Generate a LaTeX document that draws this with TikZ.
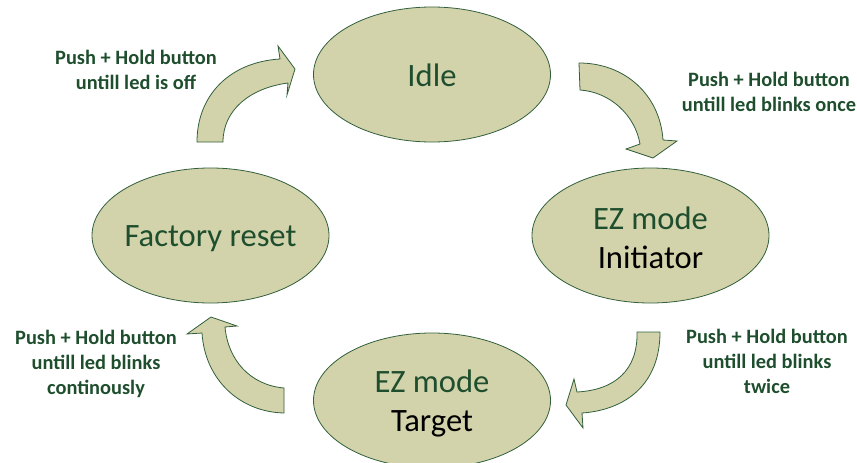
\documentclass[tikz,border=0pt]{standalone}
\usepackage{fontspec}
\setmainfont{Carlito}
\usetikzlibrary{shapes.geometric}
\definecolor{olivefill}{RGB}{211,211,171}
\definecolor{olivedraw}{RGB}{50,95,60}
\definecolor{darkgreen}{RGB}{30,78,45}
\tikzset{
  state/.style={ellipse, draw=olivedraw, line width=0.8pt, fill=olivefill,
    minimum width=237pt, minimum height=135pt, inner sep=0pt},
  statetext/.style={align=center, inner sep=0pt,
    font=\fontsize{32.6}{39}\selectfont, text=darkgreen},
  blockarrow/.style={draw=olivedraw, line width=0.8pt, fill=olivefill, line join=miter},
  note/.style={align=center, font=\fontsize{20.4}{25}\selectfont\bfseries, text=darkgreen, inner sep=0pt}
}
\begin{document}
\begin{tikzpicture}[x=1pt,y=-1pt]
\useasboundingbox (0,0) rectangle (857,463);
\clip (0,0) rectangle (857,463);
\node[state, label={[statetext, yshift=-1pt]center:Idle}] (idle) at (432,74.5) {};
\node[state, label={[statetext, yshift=-2pt]center:EZ mode\\\textcolor{black}{Initiator}}] (init) at (650.5,235.5) {};
\node[state, label={[statetext, yshift=-3pt]center:Factory reset}] (reset) at (210.5,235.5) {};
\node[state, label={[statetext, yshift=-2.5pt]center:EZ mode\\\textcolor{black}{Target}}] (target) at (432,400.5) {};
% arrow reset -> idle
\draw[blockarrow] (197,142) .. controls (197,95) and (230,62) .. (280,59)
  -- (278,46) -- (295,69) -- (287,95) -- (288,83)
  .. controls (250,88) and (223,110) .. (223,142) -- cycle;
% arrow idle -> init
\draw[blockarrow] (579,63) .. controls (625,63) and (660,95) .. (663,140)
  -- (677,141) -- (653,158) -- (626,149) -- (640,144)
  .. controls (635,115) and (610,92) .. (580,90) -- cycle;
% arrow init -> target
\draw[blockarrow] (660,332) .. controls (660,385) and (625,410) .. (582,413)
  -- (583,428) -- (566,405) -- (574,379) -- (577,392)
  .. controls (615,390) and (638,370) .. (637,332) -- cycle;
% arrow target -> reset
\draw[blockarrow] (284,413) .. controls (240,412) and (205,380) .. (202,333)
  -- (187,334) -- (211,317) -- (237,326) -- (225,327)
  .. controls (228,360) and (250,385) .. (284,388) -- cycle;
\node[note] (n1) at (136,70) {Push + Hold button\\untill led is off};
\node[note] (n2) at (769,92) {Push + Hold button\\untill led blinks once};
\node[note] (n3) at (767,361) {Push + Hold button\\untill led blinks\\twice};
\node[note] (n4) at (96,364) {Push + Hold button\\untill led blinks\\continously};
\end{tikzpicture}
\end{document}
